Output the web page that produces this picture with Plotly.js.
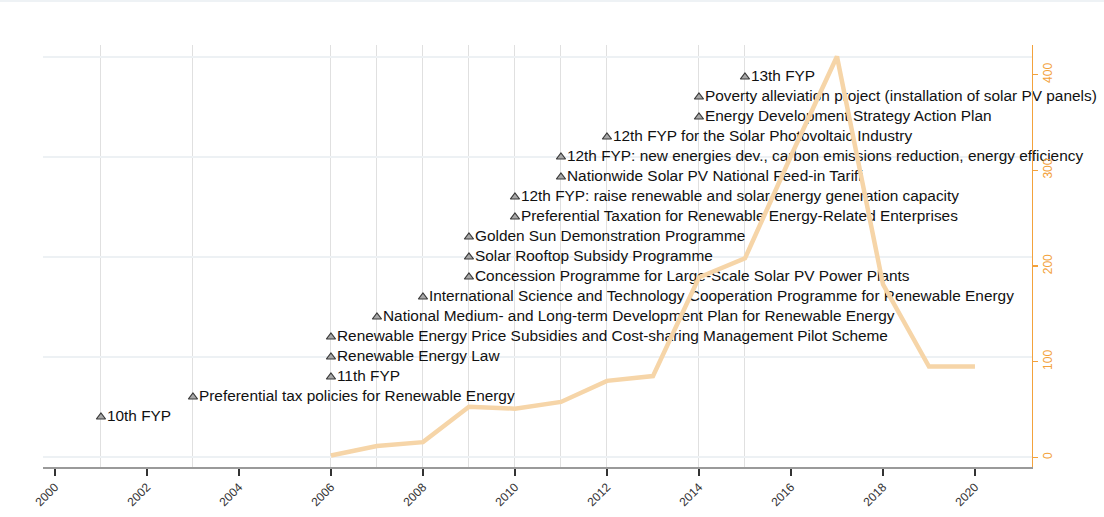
<!DOCTYPE html>
<html>
<head>
<meta charset="utf-8">
<script src="https://cdn.plot.ly/plotly-3.0.1.min.js"></script>
<style>
  html, body { margin: 0; padding: 0; background: #fff; }
  #wrap { position: relative; width: 1104px; height: 517px; }
  #topline { position: absolute; left: 0; top: 0; width: 1104px; height: 2px; background: #eef2f5; z-index: 2; }
  #chart { width: 1104px; height: 517px; }
</style>
</head>
<body>
<div id="wrap"><div id="topline"></div><div id="chart"></div></div>
<script>
// Installed capacity-like series (right axis)
const lineYears = [2006, 2007, 2008, 2009, 2010, 2011, 2012, 2013, 2014, 2015, 2016, 2017, 2018, 2019, 2020];
const lineValues = [2, 12, 16, 53, 51, 58, 80, 85, 188, 208, 315, 419, 181, 95, 95];

// Policy events (left hidden axis: stacking rank)
const policyYears = [2001, 2003, 2006, 2006, 2006, 2007, 2008, 2009, 2009, 2009, 2010, 2010, 2011, 2011, 2012, 2014, 2014, 2015];
const policyRank = [2, 3, 4, 5, 6, 7, 8, 9, 10, 11, 12, 13, 14, 15, 16, 17, 18, 19];
const policyLabels = [
  "10th FYP",
  "Preferential tax policies for Renewable Energy",
  "11th FYP",
  "Renewable Energy Law",
  "Renewable Energy Price Subsidies and Cost-sharing Management Pilot Scheme",
  "National Medium- and Long-term Development Plan for Renewable Energy",
  "International Science and Technology Cooperation Programme for Renewable Energy",
  "Concession Programme for Large-Scale Solar PV Power Plants",
  "Solar Rooftop Subsidy Programme",
  "Golden Sun Demonstration Programme",
  "Preferential Taxation for Renewable Energy-Related Enterprises",
  "12th FYP: raise renewable and solar energy generation capacity",
  "Nationwide Solar PV National Feed-in Tariff",
  "12th FYP: new energies dev., carbon emissions reduction, energy efficiency",
  "12th FYP for the Solar Photovoltaic Industry",
  "Energy Development Strategy Action Plan",
  "Poverty alleviation project (installation of solar PV panels)",
  "13th FYP"
];

// Tick labels
const xTickVals = [2000, 2002, 2004, 2006, 2008, 2010, 2012, 2014, 2016, 2018, 2020];
const y2TickVals = [0, 100, 200, 300, 400];
const gridYears = Array.from(new Set(policyYears));

const orange = '#f3a23c';
const font = 'Arial, "Liberation Sans", sans-serif';

const traces = [
  {
    type: 'scatter', mode: 'markers+text',
    x: policyYears, y: policyRank, text: policyLabels,
    textposition: 'middle right',
    textfont: { family: font, size: 15.4, color: '#111' },
    marker: { symbol: 'triangle-up', size: 8, color: '#a8a8a8', line: { color: '#3a3a3a', width: 1.2 } },
    xaxis: 'x', yaxis: 'y', hoverinfo: 'skip', cliponaxis: false, showlegend: false
  },
  {
    type: 'scatter', mode: 'lines',
    x: lineYears, y: lineValues,
    line: { color: '#f6d5a8', width: 4.5 },
    xaxis: 'x2', yaxis: 'y2', hoverinfo: 'skip', showlegend: false
  }
];

const xRange = [1999.74, 2021.24];

const layout = {
  width: 1104, height: 517,
  margin: { l: 43, r: 72, t: 45, b: 50 },
  paper_bgcolor: '#fff', plot_bgcolor: '#fff',
  font: { family: font },
  showlegend: false,
  xaxis: {
    range: xRange, tickmode: 'array', tickvals: gridYears,
    showticklabels: false, ticks: '', showline: false, zeroline: false,
    showgrid: true, gridcolor: '#e0e0e0', gridwidth: 1
  },
  xaxis2: {
    range: xRange, overlaying: 'x', side: 'bottom', anchor: 'y2',
    tickmode: 'array', tickvals: xTickVals, ticktext: xTickVals.map(String),
    tickangle: -45, ticks: 'outside', ticklen: 7, tickwidth: 1.5, tickcolor: '#333',
    tickfont: { family: font, size: 12, color: '#333' },
    showline: true, linecolor: '#9a9a9a', linewidth: 1.5,
    showgrid: false, zeroline: false
  },
  yaxis: {
    range: [-0.5, 20.6], tickmode: 'array', tickvals: [0, 5, 10, 15, 20],
    showticklabels: false, ticks: '', showline: false, zeroline: false,
    showgrid: true, gridcolor: '#edf1f4', gridwidth: 1.5
  },
  yaxis2: {
    range: [-10, 431], overlaying: 'y', side: 'right', anchor: 'x2',
    tickmode: 'array', tickvals: y2TickVals, ticktext: y2TickVals.map(String),
    tickangle: -90, ticks: 'outside', ticklen: 5, tickwidth: 1.5, tickcolor: orange,
    tickfont: { family: font, size: 12, color: orange },
    showline: true, linecolor: orange, linewidth: 1,
    showgrid: false, zeroline: false
  }
};

Plotly.newPlot('chart', traces, layout, { displayModeBar: false, staticPlot: true });
</script>
</body>
</html>
